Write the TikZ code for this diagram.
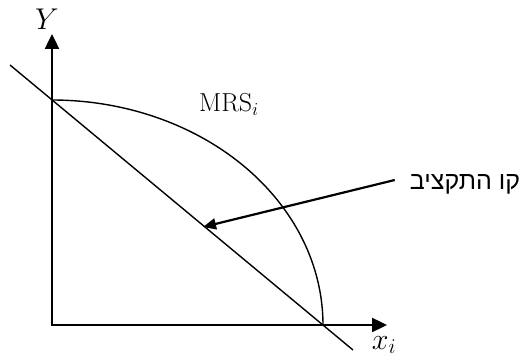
\RequirePackage{fix-cm}
\documentclass[tikz,border=0pt]{standalone}
\usepackage{fontspec}
\usetikzlibrary{arrows.meta,calc}
\newfontfamily\hebfont[Script=Hebrew]{Liberation Sans}
\TeXXeTstate=1
\begin{document}
\begin{tikzpicture}[x=1pt,y=-1pt,
  axis/.style={line width=2.4pt,-{Triangle[length=15pt,width=14pt]}},
  thin/.style={line width=1.4pt},
  pointer/.style={line width=2.2pt,-{Triangle[length=13pt,width=11pt]}},
  lbl/.style={font=\fontsize{30}{34}\selectfont,inner sep=0pt}]
\useasboundingbox (0,0) rectangle (531,363);
\coordinate (O) at (52,325);
\coordinate (ytip) at (52,34);
\coordinate (xtip) at (387,325);
\coordinate (bl1) at (10,65);
\coordinate (bl2) at (353,350);
\coordinate (hit) at (203,227);
% curve
\draw[thin] plot[domain=0:90,samples=80,smooth] ({52+271*cos(\x)},{325-225*sin(\x)});
% budget line
\draw[thin] (bl1) -- (bl2);
% axes
\draw[axis] ($(O)+(0,1)$) -- (ytip);
\draw[axis] ($(O)+(-1,0)$) -- (xtip);
\node[lbl] (ylab) at (47,19) {$Y$};
\node[lbl] (xlab) at (384,345) {$x_i$};
\node[lbl,font=\fontsize{26}{31}\selectfont] (mrs) at (229,104) {$\mathrm{MRS}_i$};
\node[inner sep=0pt,font=\hebfont\fontsize{25}{30}\selectfont] (heb) at (465,184) {\beginR קו התקציב\endR};
\draw[pointer] ($(heb.west)+(-15,-4)$) -- (hit);
\end{tikzpicture}
\end{document}
